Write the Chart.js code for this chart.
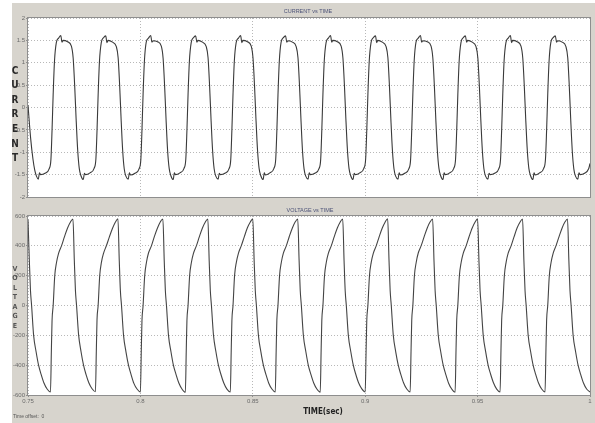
<!DOCTYPE html>
<html>
<head>
<meta charset="utf-8">
<script src="https://cdn.jsdelivr.net/npm/chart.js@4.4.1/dist/chart.umd.min.js"></script>
<style>
  html, body { margin: 0; padding: 0; background: #fff; }
  #panel { position: absolute; left: 12px; top: 3px; width: 583px; height: 420px; background: #d7d4cd; }
  canvas { position: absolute; left: 0; }
  #currentChart { top: 0; }
  #voltageChart { top: 205px; }
</style>
</head>
<body>
<div id="panel"></div>
<canvas id="currentChart" width="595" height="205"></canvas>
<canvas id="voltageChart" width="595" height="218"></canvas>
<script>
// tick labels
const timeTicks = [0.75, 0.8, 0.85, 0.9, 0.95, 1];
const currentTicks = [-2, -1.5, -1, -0.5, 0, 0.5, 1, 1.5, 2];
const voltageTicks = [-600, -400, -200, 0, 200, 400, 600];

// current (A)
const currentTime = [
  0.7500, 0.7512, 0.7522, 0.7530, 0.7538,
  0.7546, 0.7551, 0.7556, 0.7576, 0.7594, 0.7602, 0.7607, 0.7612, 0.7618, 0.7626, 0.7636, 0.7646, 0.7651, 0.7656, 0.7676, 0.7693, 0.7701, 0.7708, 0.7714, 0.7721, 0.7728, 0.7736,
  0.7746, 0.7751, 0.7756, 0.7776, 0.7794, 0.7802, 0.7807, 0.7812, 0.7818, 0.7826, 0.7836, 0.7846, 0.7851, 0.7856, 0.7876, 0.7893, 0.7901, 0.7908, 0.7914, 0.7921, 0.7928, 0.7936,
  0.7946, 0.7951, 0.7956, 0.7976, 0.7994, 0.8002, 0.8007, 0.8012, 0.8018, 0.8026, 0.8036, 0.8046, 0.8051, 0.8056, 0.8076, 0.8093, 0.8101, 0.8108, 0.8114, 0.8121, 0.8128, 0.8136,
  0.8146, 0.8151, 0.8156, 0.8176, 0.8194, 0.8202, 0.8207, 0.8212, 0.8218, 0.8226, 0.8236, 0.8246, 0.8251, 0.8256, 0.8276, 0.8293, 0.8301, 0.8308, 0.8314, 0.8321, 0.8328, 0.8336,
  0.8346, 0.8351, 0.8356, 0.8376, 0.8394, 0.8402, 0.8407, 0.8412, 0.8418, 0.8426, 0.8436, 0.8446, 0.8451, 0.8456, 0.8476, 0.8493, 0.8501, 0.8508, 0.8514, 0.8521, 0.8528, 0.8536,
  0.8546, 0.8551, 0.8556, 0.8576, 0.8594, 0.8602, 0.8607, 0.8612, 0.8618, 0.8626, 0.8636, 0.8646, 0.8651, 0.8656, 0.8676, 0.8693, 0.8701, 0.8708, 0.8714, 0.8721, 0.8728, 0.8736,
  0.8746, 0.8751, 0.8756, 0.8776, 0.8794, 0.8802, 0.8807, 0.8812, 0.8818, 0.8826, 0.8836, 0.8846, 0.8851, 0.8856, 0.8876, 0.8893, 0.8901, 0.8908, 0.8914, 0.8921, 0.8928, 0.8936,
  0.8946, 0.8951, 0.8956, 0.8976, 0.8994, 0.9002, 0.9007, 0.9012, 0.9018, 0.9026, 0.9036, 0.9046, 0.9051, 0.9056, 0.9076, 0.9093, 0.9101, 0.9108, 0.9114, 0.9121, 0.9128, 0.9136,
  0.9146, 0.9151, 0.9156, 0.9176, 0.9194, 0.9202, 0.9207, 0.9212, 0.9218, 0.9226, 0.9236, 0.9246, 0.9251, 0.9256, 0.9276, 0.9293, 0.9301, 0.9308, 0.9314, 0.9321, 0.9328, 0.9336,
  0.9346, 0.9351, 0.9356, 0.9376, 0.9394, 0.9402, 0.9407, 0.9412, 0.9418, 0.9426, 0.9436, 0.9446, 0.9451, 0.9456, 0.9476, 0.9493, 0.9501, 0.9508, 0.9514, 0.9521, 0.9528, 0.9536,
  0.9546, 0.9551, 0.9556, 0.9576, 0.9594, 0.9602, 0.9607, 0.9612, 0.9618, 0.9626, 0.9636, 0.9646, 0.9651, 0.9656, 0.9676, 0.9693, 0.9701, 0.9708, 0.9714, 0.9721, 0.9728, 0.9736,
  0.9746, 0.9751, 0.9756, 0.9776, 0.9794, 0.9802, 0.9807, 0.9812, 0.9818, 0.9826, 0.9836, 0.9846, 0.9851, 0.9856, 0.9876, 0.9893, 0.9901, 0.9908, 0.9914, 0.9921, 0.9928, 0.9936,
  0.9946, 0.9951, 0.9956, 0.9976, 0.9994, 1.0000
];
const currentValue = [
  0.05, -0.70, -1.15, -1.40, -1.54,
  -1.60, -1.46, -1.50, -1.47, -1.37, -1.16, -0.50, 0.30, 1.05, 1.45, 1.55, 1.61, 1.46, 1.50, 1.47, 1.37, 1.10, 0.45, -0.25, -0.95, -1.36, -1.53,
  -1.61, -1.47, -1.50, -1.46, -1.36, -1.15, -0.52, 0.28, 1.04, 1.45, 1.56, 1.60, 1.45, 1.50, 1.46, 1.36, 1.11, 0.46, -0.24, -0.95, -1.37, -1.54,
  -1.60, -1.46, -1.51, -1.47, -1.37, -1.16, -0.50, 0.30, 1.05, 1.46, 1.55, 1.61, 1.46, 1.49, 1.47, 1.37, 1.10, 0.45, -0.25, -0.96, -1.36, -1.53,
  -1.61, -1.46, -1.50, -1.46, -1.36, -1.15, -0.51, 0.29, 1.04, 1.45, 1.56, 1.60, 1.46, 1.50, 1.46, 1.36, 1.11, 0.46, -0.24, -0.95, -1.37, -1.54,
  -1.60, -1.47, -1.50, -1.47, -1.37, -1.16, -0.50, 0.30, 1.05, 1.45, 1.55, 1.61, 1.45, 1.50, 1.47, 1.37, 1.10, 0.45, -0.25, -0.95, -1.36, -1.53,
  -1.61, -1.46, -1.51, -1.46, -1.36, -1.15, -0.52, 0.28, 1.04, 1.46, 1.56, 1.60, 1.46, 1.49, 1.46, 1.36, 1.11, 0.46, -0.24, -0.96, -1.37, -1.54,
  -1.60, -1.46, -1.50, -1.47, -1.37, -1.16, -0.50, 0.30, 1.05, 1.45, 1.55, 1.61, 1.46, 1.50, 1.47, 1.37, 1.10, 0.45, -0.25, -0.95, -1.36, -1.53,
  -1.61, -1.47, -1.50, -1.46, -1.36, -1.15, -0.51, 0.29, 1.04, 1.45, 1.56, 1.60, 1.45, 1.50, 1.46, 1.36, 1.11, 0.46, -0.24, -0.95, -1.37, -1.54,
  -1.60, -1.46, -1.51, -1.47, -1.37, -1.16, -0.50, 0.30, 1.05, 1.46, 1.55, 1.61, 1.46, 1.49, 1.47, 1.37, 1.10, 0.45, -0.25, -0.96, -1.36, -1.53,
  -1.61, -1.46, -1.50, -1.46, -1.36, -1.15, -0.52, 0.28, 1.04, 1.45, 1.56, 1.60, 1.46, 1.50, 1.46, 1.36, 1.11, 0.46, -0.24, -0.95, -1.37, -1.54,
  -1.60, -1.47, -1.50, -1.47, -1.37, -1.16, -0.50, 0.30, 1.05, 1.45, 1.55, 1.61, 1.45, 1.50, 1.47, 1.37, 1.10, 0.45, -0.25, -0.95, -1.36, -1.53,
  -1.61, -1.46, -1.51, -1.46, -1.36, -1.15, -0.51, 0.29, 1.04, 1.46, 1.56, 1.60, 1.46, 1.49, 1.46, 1.36, 1.11, 0.46, -0.24, -0.96, -1.37, -1.54,
  -1.60, -1.46, -1.50, -1.47, -1.37, -1.25
];

// voltage (V)
const voltageTime = [
  0.7500, 0.7506, 0.7511, 0.7516, 0.7525, 0.7536, 0.7547, 0.7558, 0.7571, 0.7585, 0.7600, 0.7604, 0.7607, 0.7612, 0.7619, 0.7627, 0.7636, 0.7649, 0.7662, 0.7676, 0.7689,
  0.7700, 0.7706, 0.7711, 0.7716, 0.7725, 0.7736, 0.7747, 0.7758, 0.7771, 0.7785, 0.7800, 0.7804, 0.7807, 0.7812, 0.7819, 0.7827, 0.7836, 0.7849, 0.7862, 0.7876, 0.7889,
  0.7900, 0.7906, 0.7911, 0.7916, 0.7925, 0.7936, 0.7947, 0.7958, 0.7971, 0.7985, 0.8000, 0.8004, 0.8007, 0.8012, 0.8019, 0.8027, 0.8036, 0.8049, 0.8062, 0.8076, 0.8089,
  0.8100, 0.8106, 0.8111, 0.8116, 0.8125, 0.8136, 0.8147, 0.8158, 0.8171, 0.8185, 0.8200, 0.8204, 0.8207, 0.8212, 0.8219, 0.8227, 0.8236, 0.8249, 0.8262, 0.8276, 0.8289,
  0.8300, 0.8306, 0.8311, 0.8316, 0.8325, 0.8336, 0.8347, 0.8358, 0.8371, 0.8385, 0.8400, 0.8404, 0.8407, 0.8412, 0.8419, 0.8427, 0.8436, 0.8449, 0.8462, 0.8476, 0.8489,
  0.8500, 0.8506, 0.8511, 0.8516, 0.8525, 0.8536, 0.8547, 0.8558, 0.8571, 0.8585, 0.8600, 0.8604, 0.8607, 0.8612, 0.8619, 0.8627, 0.8636, 0.8649, 0.8662, 0.8676, 0.8689,
  0.8700, 0.8706, 0.8711, 0.8716, 0.8725, 0.8736, 0.8747, 0.8758, 0.8771, 0.8785, 0.8800, 0.8804, 0.8807, 0.8812, 0.8819, 0.8827, 0.8836, 0.8849, 0.8862, 0.8876, 0.8889,
  0.8900, 0.8906, 0.8911, 0.8916, 0.8925, 0.8936, 0.8947, 0.8958, 0.8971, 0.8985, 0.9000, 0.9004, 0.9007, 0.9012, 0.9019, 0.9027, 0.9036, 0.9049, 0.9062, 0.9076, 0.9089,
  0.9100, 0.9106, 0.9111, 0.9116, 0.9125, 0.9136, 0.9147, 0.9158, 0.9171, 0.9185, 0.9200, 0.9204, 0.9207, 0.9212, 0.9219, 0.9227, 0.9236, 0.9249, 0.9262, 0.9276, 0.9289,
  0.9300, 0.9306, 0.9311, 0.9316, 0.9325, 0.9336, 0.9347, 0.9358, 0.9371, 0.9385, 0.9400, 0.9404, 0.9407, 0.9412, 0.9419, 0.9427, 0.9436, 0.9449, 0.9462, 0.9476, 0.9489,
  0.9500, 0.9506, 0.9511, 0.9516, 0.9525, 0.9536, 0.9547, 0.9558, 0.9571, 0.9585, 0.9600, 0.9604, 0.9607, 0.9612, 0.9619, 0.9627, 0.9636, 0.9649, 0.9662, 0.9676, 0.9689,
  0.9700, 0.9706, 0.9711, 0.9716, 0.9725, 0.9736, 0.9747, 0.9758, 0.9771, 0.9785, 0.9800, 0.9804, 0.9807, 0.9812, 0.9819, 0.9827, 0.9836, 0.9849, 0.9862, 0.9876, 0.9889,
  0.9900, 0.9906, 0.9911, 0.9916, 0.9925, 0.9936, 0.9947, 0.9958, 0.9971, 0.9985, 1.0000
];
const voltageValue = [
  575, 300, 100, 0, -200, -310, -400, -460, -520, -560, -580, -300, -100, 0, 200, 290, 350, 400, 460, 520, 560,
  580, 305, 100, 0, -195, -310, -400, -462, -520, -558, -578, -300, -95, 0, 200, 292, 350, 402, 460, 518, 560,
  582, 300, 98, 0, -200, -312, -400, -460, -522, -560, -580, -298, -100, 0, 198, 290, 352, 400, 462, 520, 562,
  580, 302, 100, 0, -200, -310, -402, -460, -520, -560, -582, -300, -100, 0, 200, 290, 350, 400, 460, 520, 560,
  580, 300, 100, 0, -198, -310, -400, -461, -520, -561, -580, -302, -100, 0, 202, 291, 350, 401, 460, 521, 560,
  581, 300, 102, 0, -200, -311, -400, -460, -521, -560, -580, -300, -98, 0, 200, 290, 351, 400, 461, 520, 561,
  580, 301, 100, 0, -201, -310, -401, -460, -520, -560, -581, -300, -100, 0, 199, 290, 350, 400, 460, 520, 560,
  580, 300, 99, 0, -200, -310, -400, -461, -520, -559, -580, -301, -100, 0, 200, 291, 350, 400, 460, 519, 560,
  582, 300, 100, 0, -200, -312, -400, -460, -520, -560, -580, -300, -101, 0, 201, 290, 352, 401, 460, 520, 561,
  580, 302, 100, 0, -199, -310, -400, -460, -521, -560, -582, -300, -100, 0, 200, 290, 350, 400, 461, 520, 560,
  581, 300, 101, 0, -200, -311, -401, -461, -520, -561, -580, -299, -100, 0, 200, 291, 351, 400, 460, 521, 560,
  580, 300, 100, 0, -200, -310, -400, -460, -520, -560, -580, -300, -99, 0, 199, 290, 350, 401, 460, 520, 561,
  580, 301, 100, 0, -201, -310, -400, -460, -520, -560, -580
];

const scopePlugin = {
  id: 'scope',
  beforeDraw(chart) {
    const a = chart.chartArea, ctx = chart.ctx;
    ctx.save();
    ctx.fillStyle = '#ffffff';
    ctx.fillRect(a.left, a.top, a.right - a.left, a.bottom - a.top);
    ctx.restore();
  },
  afterDraw(chart, args, opts) {
    const a = chart.chartArea, ctx = chart.ctx;
    ctx.save();
    ctx.strokeStyle = '#8e8e8e';
    ctx.lineWidth = 1;
    ctx.strokeRect(a.left - 0.5, a.top - 0.5, a.right - a.left + 1, a.bottom - a.top + 1);
    ctx.textBaseline = 'middle';
    (opts.texts || []).forEach(t => {
      ctx.font = t.font;
      ctx.fillStyle = t.color;
      ctx.textAlign = t.align || 'left';
      ctx.fillText(t.text, t.x, t.y);
    });
    // vertical axis label, one letter per row
    const s = opts.stacked;
    if (s) {
      ctx.font = s.font;
      ctx.fillStyle = s.color;
      ctx.textAlign = 'center';
      s.text.split('').forEach((ch, i) => ctx.fillText(ch, s.x, s.y + i * s.step));
    }
    ctx.restore();
  }
};

const tickFont = { family: 'Liberation Sans', size: 6 };
const gridStyle = { color: '#b8b8b8', drawTicks: true, tickLength: 2, tickColor: '#8e8e8e' };

function makeOptions(yTicks, yMin, yMax, showX, padding, xHeight, extra) {
  return {
    responsive: false,
    animation: false,
    layout: { padding: padding },
    plugins: { legend: { display: false }, tooltip: { enabled: false }, scope: extra },
    scales: {
      x: {
        type: 'linear', min: 0.75, max: 1,
        afterBuildTicks: (axis) => { axis.ticks = timeTicks.map(v => ({ value: v })); },
        afterFit: (axis) => { axis.height = xHeight; },
        grid: Object.assign({}, gridStyle, { drawTicks: showX }),
        border: { display: false, dash: [1, 2] },
        ticks: { display: showX, font: tickFont, color: '#6a6a6a', padding: 1, maxRotation: 0,
                 callback: (v) => String(Math.round(v * 100) / 100) }
      },
      y: {
        type: 'linear', min: yMin, max: yMax,
        afterBuildTicks: (axis) => { axis.ticks = yTicks.map(v => ({ value: v })); },
        afterFit: (axis) => { axis.width = 28; },
        grid: gridStyle,
        border: { display: false, dash: [1, 2] },
        ticks: { font: tickFont, color: '#6a6a6a', padding: 1, callback: (v) => String(v) }
      }
    }
  };
}

new Chart(document.getElementById('currentChart'), {
  type: 'line',
  data: {
    datasets: [{
      data: currentTime.map((t, i) => ({ x: t, y: currentValue[i] })),
      borderColor: '#3a3a3a', borderWidth: 1.1, pointRadius: 0, cubicInterpolationMode: 'monotone'
    }]
  },
  options: makeOptions(currentTicks, -2, 2, false, { top: 18, right: 5, bottom: 8, left: 0 }, 0, {
    texts: [{ text: 'CURRENT vs TIME', x: 308, y: 11, font: '5.5px "Liberation Sans"', color: '#4c5277', align: 'center' }],
    stacked: { text: 'CURRENT', x: 15, y: 71, step: 14.6, font: 'bold 10px "DejaVu Sans Condensed"', color: '#2a2a2a' }
  }),
  plugins: [scopePlugin]
});

new Chart(document.getElementById('voltageChart'), {
  type: 'line',
  data: {
    datasets: [{
      data: voltageTime.map((t, i) => ({ x: t, y: voltageValue[i] })),
      borderColor: '#444444', borderWidth: 1.1, pointRadius: 0, cubicInterpolationMode: 'monotone'
    }]
  },
  options: makeOptions(voltageTicks, -600, 600, true, { top: 11, right: 5, bottom: 0, left: 0 }, 28, {
    texts: [
      { text: 'VOLTAGE vs TIME', x: 310, y: 5, font: '5.5px "Liberation Sans"', color: '#4c5277', align: 'center' },
      { text: 'TIME(sec)', x: 323, y: 207, font: 'bold 8px "DejaVu Sans Condensed"', color: '#222222', align: 'center' },
      { text: 'Time offset:  0', x: 13, y: 212, font: '5px "Liberation Sans"', color: '#555555', align: 'left' }
    ],
    stacked: { text: 'VOLTAGE', x: 15, y: 64, step: 9.5, font: 'bold 7px "DejaVu Sans Condensed"', color: '#555555' }
  }),
  plugins: [scopePlugin]
});
</script>
</body>
</html>
